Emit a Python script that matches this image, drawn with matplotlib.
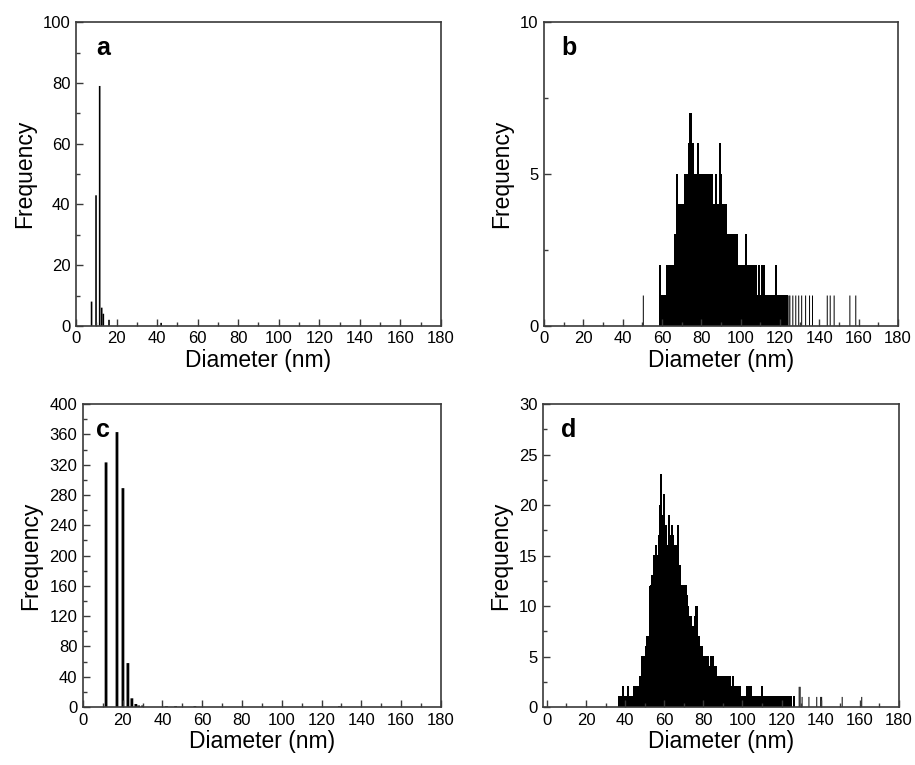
import matplotlib.pyplot as plt
import numpy as np
from matplotlib.ticker import MultipleLocator

plt.rcParams['font.family'] = ['Liberation Sans', 'DejaVu Sans']

# panel a: a few isolated size classes
a_diameter = [7.7, 9.9, 11.7, 12.7, 13.5, 16.3, 42.0]
a_count = [8, 43, 79, 6, 4, 2, 1]

# panel c
c_diameter = [11.6, 17.1, 20.1, 22.6, 24.6, 26.6, 28.0, 30.0, 42.0, 46.6, 56.3, 129.0]
c_count = [323, 363, 289, 58, 11.5, 4, 2, 2, 1, 1, 1, 1]

# panel b: 0.5 nm bins starting at 59.0 nm
b_start = 59.0
b_count = [
    2, 1, 1, 1, 1, 1, 1, 2, 1, 2,
    1, 2, 2, 2, 2, 3, 3, 5, 3, 4,
    4, 4, 3, 4, 4, 5, 4, 5, 5, 6,
    6, 7, 6, 6, 5, 5, 4, 5, 5, 6,
    5, 5, 4, 5, 5, 4, 5, 5, 4, 5,
    4, 5, 4, 5, 4, 4, 3, 5, 4, 4,
    3, 6, 5, 4, 3, 4, 3, 4, 3, 3,
    3, 2, 3, 3, 2, 3, 3, 2, 3, 2,
    2, 2, 2, 2, 1, 2, 2, 3, 2, 1,
    2, 2, 1, 2, 1, 2, 1, 1, 2, 1,
    1, 2, 1, 1, 2, 1, 2, 1, 1, 1,
    1, 1, 1, 1, 1, 1, 1, 1, 2, 1,
    1, 1, 1, 0, 1, 1, 1, 0, 1, 1,
]
b_extra_diameter = [50.5, 124.5, 125.0, 126.5, 128.0, 129.5, 131.0, 133.0,
                    135.0, 136.5, 144.0, 145.5, 147.5, 155.5, 158.5]
b_extra_count = [1] * len(b_extra_diameter)

# panel d: 0.5 nm bins starting at 37.0 nm
d_start = 37.0
d_count = [
    1, 0, 1, 1, 2, 1, 1, 1, 1, 2,
    1, 1, 1, 1, 1, 2, 2, 1, 2, 2,
    2, 3, 3, 5, 4, 5, 5, 6, 7, 6,
    7, 10, 12, 11, 13, 12, 15, 14, 16, 15,
    15, 17, 20, 23, 17, 19, 21, 18, 18, 16,
    14, 19, 17, 16, 18, 17, 16, 15, 16, 14,
    18, 13, 14, 12, 12, 11, 12, 11, 12, 11,
    10, 9, 9, 9, 8, 8, 7, 8, 9, 10,
    7, 7, 7, 6, 6, 6, 5, 5, 5, 4,
    5, 5, 4, 4, 5, 4, 5, 4, 4, 4,
    3, 3, 3, 3, 2, 3, 3, 3, 3, 2,
    3, 3, 2, 3, 2, 2, 3, 2, 2, 2,
    1, 2, 1, 2, 1, 1, 1, 1, 1, 1,
    1, 2, 1, 2, 1, 2, 1, 1, 1, 1,
    1, 1, 1, 0, 1, 1, 2, 1, 1, 1,
    1, 0, 1, 1, 1, 1, 0, 1, 1, 1,
    1, 0, 1, 1, 1, 0, 1, 1, 1, 0,
    1, 1, 0, 1, 1, 0, 1, 0, 0, 1,
]
d_extra_diameter = [129.0, 129.5, 130.5, 134.0, 138.0, 140.0, 140.5, 151.0, 161.0]
d_extra_count = [2, 2, 1, 1, 1, 1, 1, 1, 1]

b_diameter = b_start + 0.5 * np.arange(len(b_count))
d_diameter = d_start + 0.5 * np.arange(len(d_count))

fig = plt.figure(figsize=(9.15, 7.65), dpi=100)

spine_color = '#3a3a3a'


def style(ax, xlim, ylim, ymajor, yminor, letter, letter_x):
    ax.set_xlim(*xlim)
    ax.set_ylim(*ylim)
    ax.xaxis.set_major_locator(MultipleLocator(20))
    ax.xaxis.set_minor_locator(MultipleLocator(10))
    ax.yaxis.set_major_locator(MultipleLocator(ymajor))
    ax.yaxis.set_minor_locator(MultipleLocator(yminor))
    ax.tick_params(which='both', direction='in', top=False, right=False,
                   color=spine_color, labelsize=12, width=1.0)
    ax.tick_params(which='major', length=5, pad=4)
    ax.tick_params(which='minor', length=3)
    for s in ax.spines.values():
        s.set_color(spine_color)
        s.set_linewidth(1.2)
    ax.set_xlabel('Diameter (nm)', fontsize=16.5, labelpad=2)
    ax.set_ylabel('Frequency', fontsize=16.5, labelpad=5)
    ax.text(letter_x, 0.915, letter, transform=ax.transAxes, fontsize=18,
            fontweight='bold', ha='left', va='center')


def hist_bars(ax, x, y, width, smooth=True):
    ax.bar(x, y, width=width, color='black', linewidth=0, snap=False,
           antialiased=smooth)


ax_a = fig.add_axes([0.083, 0.574, 0.399, 0.397])
hist_bars(ax_a, a_diameter, a_count, 0.8)
style(ax_a, (0, 180), (0, 100), 20, 10, 'a', 0.055)

ax_b = fig.add_axes([0.5945, 0.574, 0.387, 0.397])
hist_bars(ax_b, b_diameter, b_count, 0.55, smooth=False)
hist_bars(ax_b, b_extra_diameter, b_extra_count, 0.5)
style(ax_b, (0, 180), (0, 10), 5, 2.5, 'b', 0.05)

ax_c = fig.add_axes([0.0907, 0.0758, 0.391, 0.396])
hist_bars(ax_c, c_diameter, c_count, 1.4)
style(ax_c, (0, 180), (0, 400), 40, 20, 'c', 0.036)

ax_d = fig.add_axes([0.5934, 0.0758, 0.389, 0.396])
hist_bars(ax_d, d_diameter, d_count, 0.55, smooth=False)
hist_bars(ax_d, d_extra_diameter, d_extra_count, 0.5)
style(ax_d, (-2, 180), (0, 30), 5, 2.5, 'd', 0.05)

fig.savefig('out.png', dpi=100)
